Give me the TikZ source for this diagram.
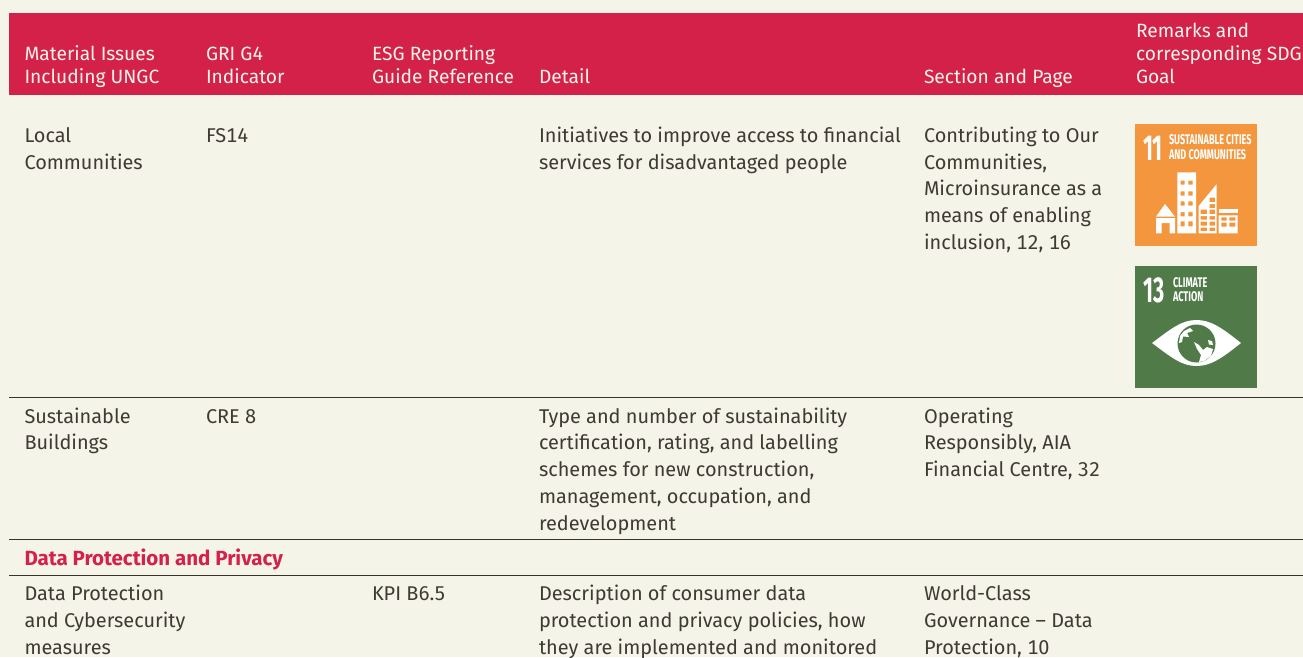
\documentclass[tikz,border=0pt]{standalone}
\usepackage{fontspec}
\setmainfont{Fira Sans}[Numbers=Monospaced]
\newfontfamily\iconfont{Fira Sans}[Numbers=Proportional]
\definecolor{bgc}{HTML}{F5F4E9}
\definecolor{crim}{HTML}{D4214A}
\definecolor{txt}{HTML}{3F3A33}
\definecolor{rulec}{HTML}{3A332C}
\definecolor{sdgo}{HTML}{F3963E}
\definecolor{sdgg}{HTML}{507A48}
\tikzset{x=1pt,y=-1pt,
 cell/.style={anchor=base west,inner sep=0pt,outer sep=0pt,text=txt,font=\fontsize{19.9}{26.8}\selectfont},
 head/.style={anchor=base west,inner sep=0pt,outer sep=0pt,text=bgc,font=\fontsize{19.2}{22.5}\selectfont},
 sect/.style={anchor=base west,inner sep=0pt,outer sep=0pt,text=crim,font=\fontsize{20.5}{22}\selectfont\bfseries},
 rowline/.style={draw=rulec,line width=0.9pt},
 icontext/.style={anchor=north west,align=left,inner sep=0pt,outer sep=0pt,text=white,font=\fontsize{14}{14.5}\selectfont\bfseries,xscale=.65},
 iconnum/.style={anchor=base west,inner sep=0pt,outer sep=0pt,text=white,font=\iconfont\fontsize{36}{36}\selectfont\bfseries,xscale=.6},
}
\begin{document}
\begin{tikzpicture}
\useasboundingbox (0,0) rectangle (1303,657);
\fill[bgc] (0,0) rectangle (1303,657);
\fill[crim] (9,13) rectangle (1303,95);
% header
\node[head] (h1a) at (24.5,60) {Material Issues};
\node[head] (h1b) at (24.5,83) {Including UNGC};
\node[head] (h2a) at (206,60) {GRI G4};
\node[head] (h2b) at (206,83) {Indicator};
\node[head] (h3a) at (372,60) {ESG Reporting};
\node[head] (h3b) at (372,83) {Guide Reference};
\node[head] (h4) at (539,83) {Detail};
\node[head] (h5) at (924,83) {Section and Page};
\node[head] (h6a) at (1136,37) {Remarks and};
\node[head] (h6b) at (1136,60) {corresponding SDG};
\node[head] (h6c) at (1136,83) {Goal};
% row lines
\coordinate (la) at (9,397); \coordinate (lb) at (1303,397);
\coordinate (ma) at (9,539); \coordinate (mb) at (1303,539);
\coordinate (na) at (9,575); \coordinate (nb) at (1303,575);
\draw[rowline] (la)--(lb); \draw[rowline] (ma)--(mb); \draw[rowline] (na)--(nb);
% body
\node[cell] (a1) at (24.5,142) {Local};
\node[cell] (a1b) at (24.5,169) {Communities};
\node[cell] (b1) at (206,142) {FS14};
\node[cell] (d1) at (539,142) {Initiatives to improve access to financial};
\node[cell] (d1b) at (539,169) {services for disadvantaged people};
\node[cell] (e1) at (924,142) {Contributing to Our};
\node[cell] (e1b) at (924,169) {Communities,};
\node[cell] (e1c) at (924,195) {Microinsurance as a};
\node[cell] (e1d) at (924,222) {means of enabling};
\node[cell] (e1e) at (924,249) {inclusion, 12, 16};
\node[cell] (a2) at (24.5,423) {Sustainable};
\node[cell] (a2b) at (24.5,449) {Buildings};
\node[cell] (b2) at (206,423) {CRE 8};
\node[cell] (d2) at (539,423) {Type and number of sustainability};
\node[cell] (d2b) at (539,449) {certification, rating, and labelling};
\node[cell] (d2c) at (539,476) {schemes for new construction,};
\node[cell] (d2d) at (539,503) {management, occupation, and};
\node[cell] (d2e) at (539,530) {redevelopment};
\node[cell] (e2) at (924,423) {Operating};
\node[cell] (e2b) at (924,449) {Responsibly, AIA};
\node[cell] (e2c) at (924,476) {Financial Centre, 32};
\node[sect] (s1) at (24.5,565) {Data Protection and Privacy};
\node[cell] (a3) at (24.5,600) {Data Protection};
\node[cell] (a3b) at (24.5,627) {and Cybersecurity};
\node[cell] (a3c) at (24.5,654) {measures};
\node[cell] (c3) at (372,600) {KPI B6.5};
\node[cell] (d3) at (539,600) {Description of consumer data};
\node[cell] (d3b) at (539,627) {protection and privacy policies, how};
\node[cell] (d3c) at (539,654) {they are implemented and monitored};
\node[cell] (e3) at (924,600) {World-Class};
\node[cell] (e3b) at (924,627) {Governance – Data};
\node[cell] (e3c) at (924,654) {Protection, 10};
% SDG 11
\fill[sdgo] (1135,124) rectangle (1257,246);
\node[iconnum] (n11) at (1143,160) {11};
\node[icontext] (t11a) at (1169,135) {SUSTAINABLE CITIES\\AND COMMUNITIES};
\begin{scope}[even odd rule]
\fill[white] (1156,233.3) -- (1156,218) -- (1175,218) -- (1175,233.3) -- (1169.5,233.3) -- (1169.5,223) -- (1161.5,223) -- (1161.5,233.3) -- cycle;
\fill[white] (1156,216.7) -- (1165,204) -- (1175,216.7) -- cycle;
\fill[white] (1177.3,172.3) rectangle (1196,233.3)
 (1180.7,180.7) rectangle (1184.7,184.7) (1188.3,180.7) rectangle (1192.7,184.7)
 (1180.7,191.3) rectangle (1184.7,195.7) (1188.3,191.3) rectangle (1192.7,195.7)
 (1180.7,201.3) rectangle (1184.7,205.7) (1188.3,201.3) rectangle (1192.7,205.7)
 (1180.7,212) rectangle (1184.7,216.3) (1188.3,212) rectangle (1192.7,216.3)
 (1180.7,221.3) rectangle (1184.7,226.3) (1188.3,221.3) rectangle (1192.7,226.3);
\fill[white] (1198.7,233.3) -- (1198.7,206) -- (1216.7,184) -- (1216.7,233.3) -- cycle
 (1209.5,197.5) rectangle (1215,202) (1209.5,204) rectangle (1215,208)
 (1200.7,209.7) rectangle (1207,214) (1209.5,209.7) rectangle (1215,214)
 (1200.7,216) rectangle (1207,219.7) (1209.5,216) rectangle (1215,219.7)
 (1200.7,221.5) rectangle (1207,225.5) (1209.5,221.5) rectangle (1215,225.5)
 (1200.7,227.5) rectangle (1207,231) (1209.5,227.5) rectangle (1215,231);
\fill[white] (1218.7,208.7) rectangle (1237.7,213.3);
\fill[white] (1218.7,215.3) rectangle (1237.7,233.3)
 (1221.3,217.3) rectangle (1226.7,220.7) (1229.3,217.3) rectangle (1235.3,220.7)
 (1221.3,222.7) rectangle (1226.7,226.7) (1229.3,222.7) rectangle (1235.3,226.7);
\end{scope}
% SDG 13
\fill[sdgg] (1135,266) rectangle (1257,388);
\node[iconnum] (n13) at (1143,302) {13};
\node[icontext] (t13a) at (1173,277.5) {CLIMATE\\ACTION};
\fill[white] (1152,343) .. controls (1172,328) and (1182,320) .. (1196.5,320) .. controls (1211,320) and (1222,328) .. (1241,343) .. controls (1222,358) and (1211,366) .. (1196.5,366) .. controls (1182,366) and (1172,358) .. (1152,343) -- cycle;
\fill[sdgg] (1196.5,343.5) circle (19);
\fill[white] (1180,336) -- (1184,331) -- (1190,328) -- (1193,331) -- (1187,333) -- (1189,337) -- (1183,336.5) -- (1182,342) -- (1179,343) -- cycle;
\fill[white] (1194,342) -- (1199,345) -- (1203,350) -- (1207,347) -- (1213,349) -- (1211,356) -- (1204,361) -- (1199,362) -- (1201,355) -- (1197,349) -- cycle;
\fill[white] (1208,340) -- (1212,341) -- (1213,345) -- (1209,344.5) -- cycle;
\end{tikzpicture}
\end{document}
